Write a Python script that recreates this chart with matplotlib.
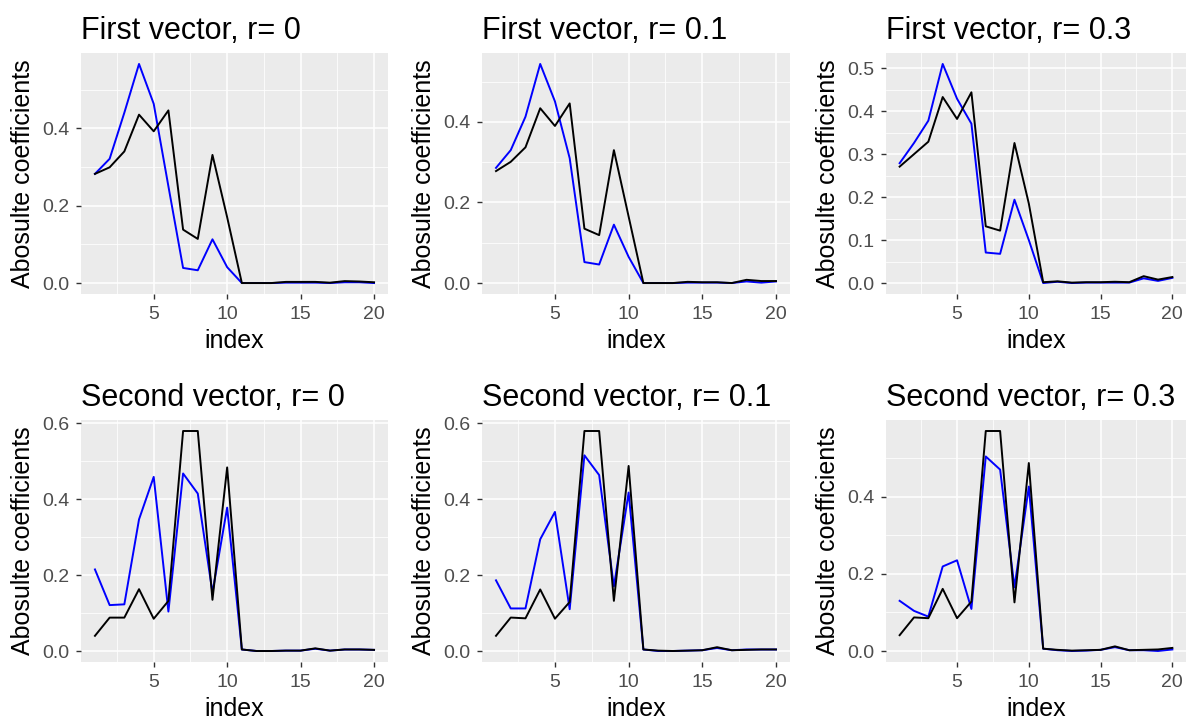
import matplotlib
matplotlib.use("Agg")
import matplotlib.pyplot as plt
import numpy as np
from matplotlib.ticker import MultipleLocator, FixedLocator

plt.rcParams['font.family'] = ['Liberation Sans', 'DejaVu Sans']

index = list(range(1, 21))

titles = ["First vector, r= 0", "First vector, r= 0.1", "First vector, r= 0.3",
          "Second vector, r= 0", "Second vector, r= 0.1", "Second vector, r= 0.3"]

first_r0_blue = [0.282, 0.321, 0.44, 0.566, 0.463, 0.25, 0.039, 0.033, 0.113, 0.041, 0.0, 0.0, 0.0, 0.001, 0.001, 0.001, 0.0, 0.002, 0.002, 0.0]
first_r0_black = [0.282, 0.299, 0.340, 0.435, 0.392, 0.446, 0.138, 0.114, 0.331, 0.17, 0.0, 0.0, 0.0, 0.003, 0.003, 0.003, 0.001, 0.005, 0.004, 0.002]

first_r01_blue = [0.286, 0.330, 0.413, 0.544, 0.451, 0.310, 0.052, 0.046, 0.145, 0.065, 0.0, 0.0, 0.0, 0.001, 0.001, 0.001, 0.0, 0.004, 0.001, 0.004]
first_r01_black = [0.278, 0.301, 0.337, 0.434, 0.390, 0.446, 0.135, 0.119, 0.330, 0.165, 0.0, 0.0, 0.0, 0.003, 0.002, 0.002, 0.0, 0.008, 0.005, 0.005]

first_r03_blue = [0.279, 0.326, 0.378, 0.510, 0.429, 0.371, 0.071, 0.068, 0.194, 0.10, 0.0, 0.003, 0.0, 0.001, 0.001, 0.001, 0.001, 0.011, 0.005, 0.012]
first_r03_black = [0.271, 0.300, 0.329, 0.433, 0.382, 0.444, 0.132, 0.122, 0.326, 0.185, 0.002, 0.004, 0.001, 0.002, 0.002, 0.003, 0.002, 0.016, 0.008, 0.014]

second_r0_blue = [0.215, 0.121, 0.123, 0.347, 0.459, 0.104, 0.468, 0.415, 0.154, 0.378, 0.004, 0.0, 0.0, 0.001, 0.001, 0.006, 0.001, 0.004, 0.004, 0.003]
second_r0_black = [0.040, 0.088, 0.088, 0.163, 0.085, 0.132, 0.580, 0.580, 0.135, 0.484, 0.004, 0.0, 0.0, 0.001, 0.001, 0.007, 0.001, 0.004, 0.004, 0.003]

second_r01_blue = [0.186, 0.112, 0.112, 0.294, 0.366, 0.110, 0.515, 0.463, 0.17, 0.417, 0.004, 0.0, 0.0, 0.001, 0.002, 0.008, 0.002, 0.004, 0.004, 0.004]
second_r01_black = [0.040, 0.088, 0.086, 0.162, 0.085, 0.129, 0.579, 0.579, 0.132, 0.487, 0.004, 0.001, 0.0, 0.001, 0.002, 0.010, 0.002, 0.003, 0.004, 0.004]

second_r03_blue = [0.130, 0.104, 0.089, 0.219, 0.235, 0.109, 0.504, 0.470, 0.165, 0.426, 0.006, 0.002, 0.0, 0.001, 0.003, 0.010, 0.002, 0.002, 0.0, 0.004]
second_r03_black = [0.041, 0.087, 0.085, 0.161, 0.085, 0.128, 0.570, 0.570, 0.126, 0.487, 0.006, 0.003, 0.001, 0.002, 0.003, 0.012, 0.002, 0.003, 0.004, 0.008]

blue_series = [first_r0_blue, first_r01_blue, first_r03_blue,
               second_r0_blue, second_r01_blue, second_r03_blue]
black_series = [first_r0_black, first_r01_black, first_r03_black,
                second_r0_black, second_r01_black, second_r03_black]
y_steps = [0.2, 0.2, 0.1, 0.2, 0.2, 0.2]

W, H = 1193, 724
fig = plt.figure(figsize=(W / 100, H / 100), dpi=100)

# panel pixel boxes (left, right, top, bottom)
cols = [(81, 388), (482, 790), (886, 1186)]
rows = [(53, 294), (420, 662)]

for k in range(6):
    r, c = divmod(k, 3)
    x0, x1 = cols[c]
    y0, y1 = rows[r]
    ax = fig.add_axes([x0 / W, (H - y1) / H, (x1 - x0) / W, (y1 - y0) / H])
    ax.set_facecolor('#EBEBEB')
    for s in ax.spines.values():
        s.set_visible(False)

    b = np.array(blue_series[k])
    kk = np.array(black_series[k])
    ymin = min(b.min(), kk.min())
    ymax = max(b.max(), kk.max())
    pad = 0.05 * (ymax - ymin)
    ax.set_ylim(ymin - pad, ymax + pad)
    ax.set_xlim(1 - 0.95, 20 + 0.95)

    step = y_steps[k]
    ax.yaxis.set_major_locator(MultipleLocator(step))
    ax.yaxis.set_minor_locator(MultipleLocator(step / 2))
    ax.xaxis.set_major_locator(FixedLocator([5, 10, 15, 20]))
    ax.xaxis.set_minor_locator(FixedLocator([2.5, 7.5, 12.5, 17.5]))
    ax.yaxis.set_major_formatter(matplotlib.ticker.FormatStrFormatter('%.1f'))

    ax.grid(which='major', color='white', linewidth=1.1)
    ax.grid(which='minor', color='white', linewidth=0.55)
    ax.set_axisbelow(True)

    ax.tick_params(which='major', length=3.6, width=1.0, color='#333333',
                   labelcolor='#4D4D4D', labelsize=14, pad=5)
    ax.tick_params(which='minor', length=0)

    ax.plot(index, b, color='#0000FF', linewidth=1.4, zorder=3)
    ax.plot(index, kk, color='black', linewidth=1.4, zorder=4)

    ax.set_title(titles[k], loc='left', fontsize=22, pad=10, color='black')
    ax.set_xlabel('index', fontsize=18, labelpad=4)
    ax.set_ylabel('Abosulte coefficients', fontsize=18, labelpad=5)

fig.savefig('out.png', dpi=100)
